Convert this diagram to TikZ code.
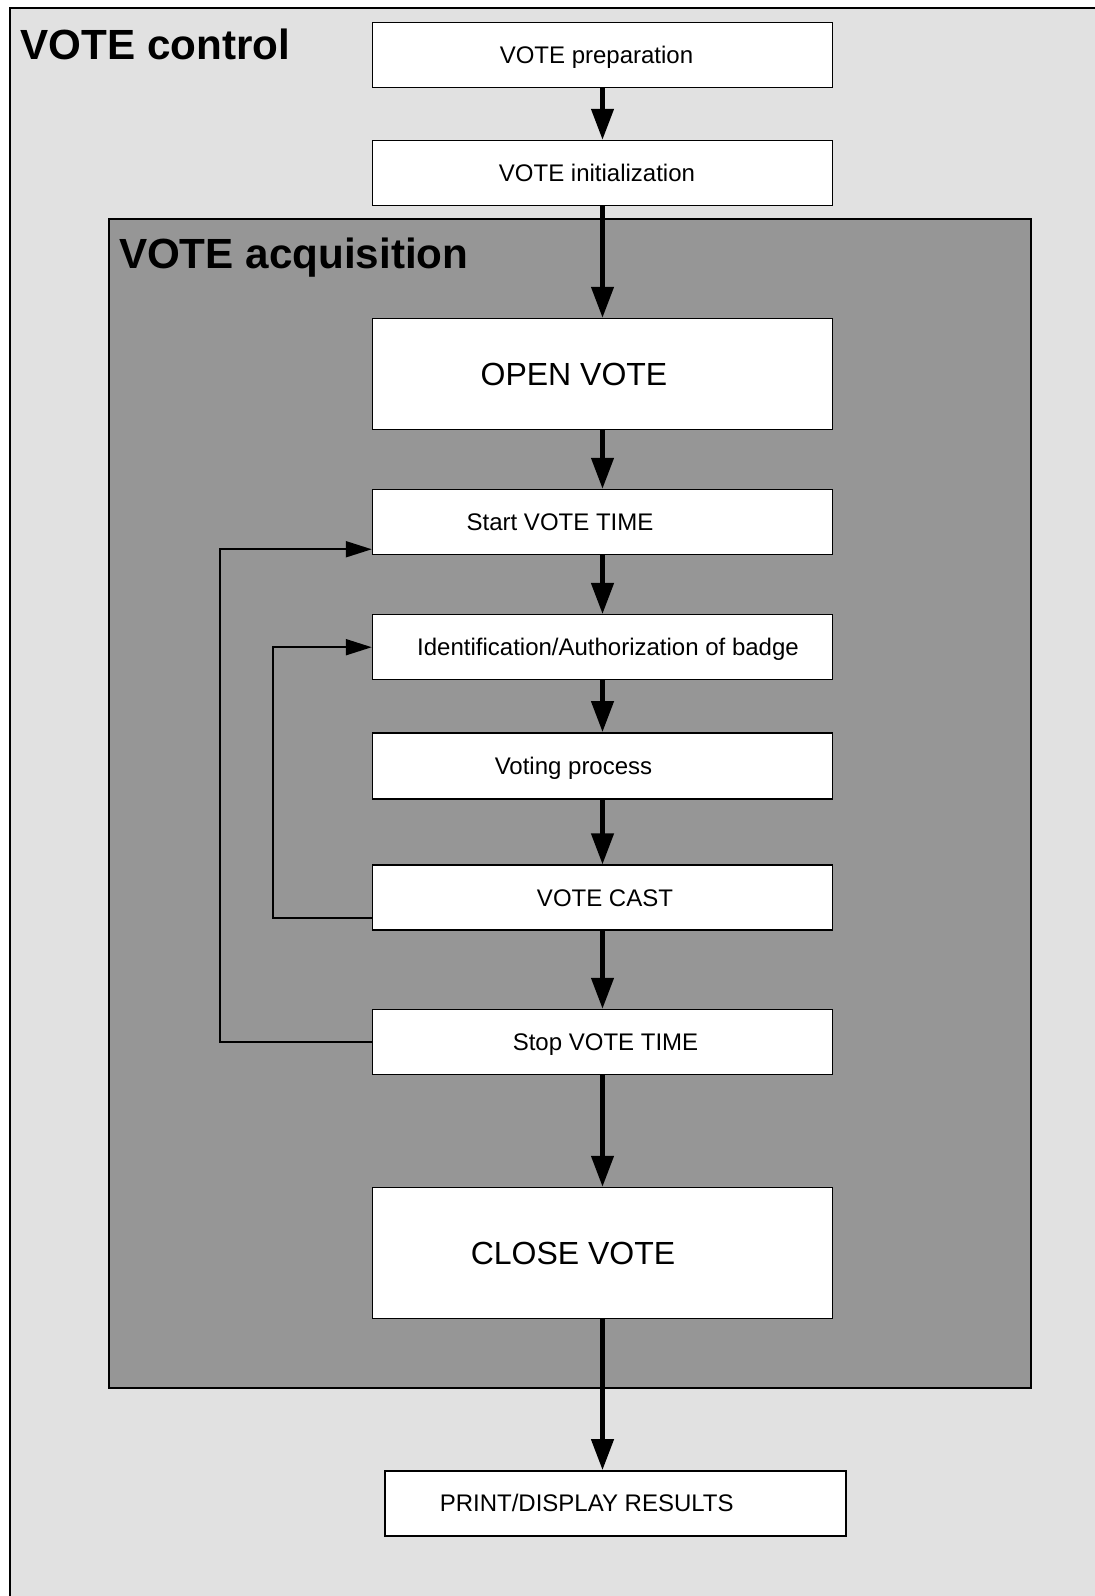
\documentclass[tikz,border=0pt]{standalone}
\usepackage{fontspec}
\setmainfont{Liberation Sans}
\usetikzlibrary{arrows.meta}
\definecolor{outerbg}{RGB}{225,225,225}
\definecolor{innerbg}{RGB}{150,150,150}
\begin{document}
\begin{tikzpicture}[x=0.5pt,y=-0.5pt,
  box/.style={draw, fill=white, line width=0.75pt, inner sep=0pt,
    minimum width=230pt, minimum height=32.5pt},
  lbl/.style={inner sep=0pt, anchor=base, font=\fontsize{12pt}{14pt}\selectfont},
  biglbl/.style={inner sep=0pt, anchor=base, font=\fontsize{16pt}{19pt}\selectfont},
  title/.style={inner sep=0pt, anchor=base west, font=\fontsize{21.1pt}{25pt}\selectfont\bfseries},
  flow/.style={line width=2.25pt, -{Triangle[length=15.5pt,width=11pt]}},
  loopback/.style={line width=1pt, -{Triangle[length=13pt,width=8pt]}}]
\useasboundingbox (0,0) rectangle (1094,1596);
% frames
\draw[fill=outerbg, line width=1pt] (10,8) rectangle (1120,1620);
\draw[fill=innerbg, line width=1pt] (108.9,218.8) rectangle (1030.5,1388);
\node[title] (tctrl) at (20.4,59) {VOTE control};
\node[title] (tacq) at (118.6,268) {VOTE acquisition};
% boxes
\node[box] (prep) at (602.5,55) {};
\node[box] (init) at (602.5,173) {};
\node[box, minimum height=55.5pt] (open) at (602.5,374) {};
\node[box] (start) at (602.5,522) {};
\node[box] (ident) at (602.5,647.2) {};
\node[box, minimum height=33pt] (voting) at (602.5,765.8) {};
\node[box] (cast) at (602.5,897.6) {};
\node[box] (stop) at (602.5,1042) {};
\node[box, minimum height=65.5pt] (close) at (602.5,1253) {};
\node[box, minimum width=230.5pt] (print) at (615.5,1503.3) {};
% texts
\node[lbl] (tprep) at (596.5,63.6) {VOTE preparation};
\node[lbl] (tinit) at (597,181.6) {VOTE initialization};
\node[biglbl] (topen) at (574,385.5) {OPEN VOTE};
\node[lbl] (tstart) at (560,530.6) {Start VOTE TIME};
\node[lbl] (tident) at (608,655.8) {Identification/Authorization of badge};
\node[lbl] (tvoting) at (573.5,774.4) {Voting process};
\node[lbl] (tcast) at (605,906.2) {VOTE CAST};
\node[lbl] (tstop) at (605.5,1050.6) {Stop VOTE TIME};
\node[biglbl] (tclose) at (573,1264.5) {CLOSE VOTE};
\node[lbl] (tprint) at (586.7,1511.9) {PRINT/DISPLAY RESULTS};
% main flow
\draw[flow] (prep) -- (init);
\draw[flow] (init) -- (open);
\draw[flow] (open) -- (start);
\draw[flow] (start) -- (ident);
\draw[flow] (ident) -- (voting);
\draw[flow] (voting) -- (cast);
\draw[flow] (cast) -- (stop);
\draw[flow] (stop) -- (close);
\draw[flow] (close.south) -- (close.south |- print.north);
% loops
\coordinate (sIn) at ([yshift=3pt]start.south west);
\coordinate (cOut) at ([yshift=6.5pt]cast.south west);
\draw[loopback] (stop.west) -- ++(-151.5,0) |- (sIn);
\draw[loopback] (cOut) -- ++(-99,0) |- (ident.west);
\end{tikzpicture}
\end{document}
